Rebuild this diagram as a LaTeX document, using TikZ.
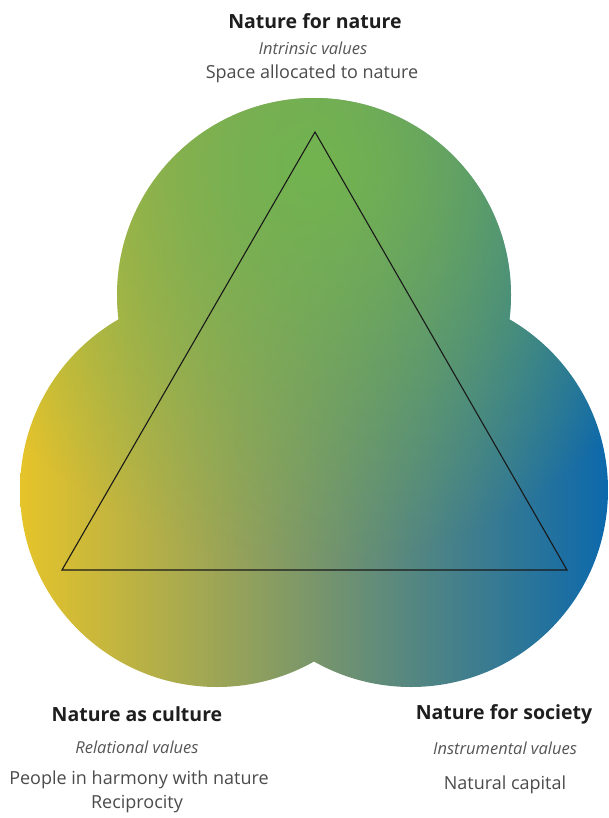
\documentclass[tikz,border=0pt]{standalone}
\usepackage{fontspec}
\setmainfont{Open Sans}
\usetikzlibrary{positioning,fadings}

\definecolor{cultureYellow}{HTML}{E6C42A}
\definecolor{societyBlue}{HTML}{0C68AC}
\definecolor{natureGreen}{HTML}{72B44F}
\definecolor{midGrey}{HTML}{8E9A85}
\definecolor{textDark}{HTML}{1E1E1E}
\definecolor{textGrey}{HTML}{555555}

\tikzfading[name=fade green, inner color=transparent!0, outer color=transparent!100]

\begin{document}
\begin{tikzpicture}[
  x=1pt, y=-1pt,
  heading/.style={font=\fontsize{19.5}{22}\selectfont\bfseries, text=textDark},
  valuetype/.style={font=\fontsize{16.5}{19}\selectfont\itshape, text=textGrey},
  example/.style={font=\fontsize{18}{21}\selectfont, text=textDark!80}
]
  \useasboundingbox (0,0) rectangle (609,818);

  % Centres of the three lobes
  \coordinate (lobeTop) at (314,295);
  \coordinate (lobeLeft) at (217,490);
  \coordinate (lobeRight) at (411,490);

  % Blob filled with the colour blend
  \begin{scope}
    \clip (lobeTop) circle [radius=197] (lobeLeft) circle [radius=197]
          (lobeRight) circle [radius=197];
    \shade [left color=cultureYellow, middle color=midGrey, right color=societyBlue]
      (18,90) rectangle (610,700);
    \fill [natureGreen, path fading=fade green] (-86,-235) rectangle (714,565);
  \end{scope}

  % Triangle
  \coordinate (apex) at (315,132);
  \coordinate (cornerLeft) at (62,570);
  \coordinate (cornerRight) at (567,570);
  \draw [line width=1.1pt, black!90] (apex) -- (cornerLeft) -- (cornerRight) -- cycle;

  % Nature for nature
  \node (natHead) at (315,21) [heading] {Nature for nature};
  \node (natValue) at (313,48) [valuetype] {Intrinsic values};
  \node (natExample) at (312,74) [example] {Space allocated to nature};

  % Nature as culture
  \node (culHead) at (137,714) [heading] {Nature as culture};
  \node (culValue) at (137,747) [valuetype] {Relational values};
  \node (culExample) at (139,780) [example] {People in harmony with nature};
  \node (culExtra) at (137,804) [example] {Reciprocity};

  % Nature for society
  \node (socHead) at (504,714) [heading] {Nature for society};
  \node (socValue) at (505,748) [valuetype] {Instrumental values};
  \node (socExample) at (505,785) [example] {Natural capital};

\end{tikzpicture}
\end{document}
